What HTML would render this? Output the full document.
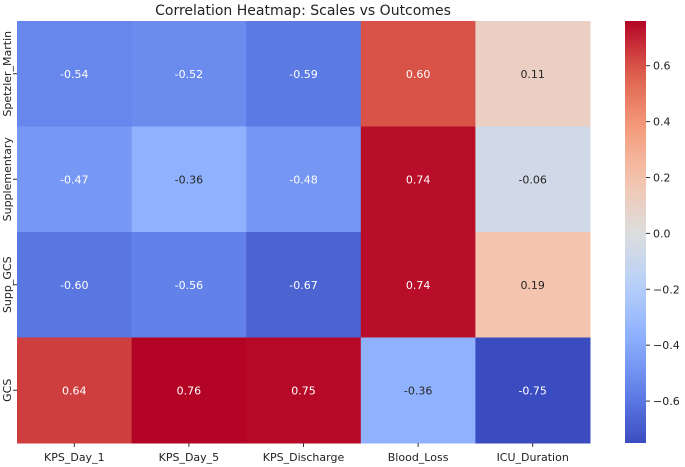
<!DOCTYPE html>
<html><head><meta charset="utf-8"><style>
html,body{margin:0;padding:0;background:#fff;}
svg{display:block;font-family:"DejaVu Sans","Liberation Sans",sans-serif;}
</style></head><body>
<svg id="chart" width="685" height="467">
<text x="303" y="15" text-anchor="middle" font-size="14" fill="#222">Correlation Heatmap: Scales vs Outcomes</text>
<g id="cells"></g><g id="xt"></g><g id="yt"></g><g id="cb"></g>
</svg>
<script>
const rows = ["Spetzler_Martin","Supplementary","Supp_GCS","GCS"];
const cols = ["KPS_Day_1","KPS_Day_5","KPS_Discharge","Blood_Loss","ICU_Duration"];
const r0 = [-0.54,-0.52,-0.59,0.60,0.11];
const r1 = [-0.47,-0.36,-0.48,0.74,-0.06];
const r2 = [-0.60,-0.56,-0.67,0.74,0.19];
const r3 = [0.64,0.76,0.75,-0.36,-0.75];
const values = [r0,r1,r2,r3];
const cbTicks = [0.6,0.4,0.2,0.0,-0.2,-0.4,-0.6];
const vmin=-0.75, vmax=0.76;
const L=17,T=21,R=590,B=443;
const cw=(R-L)/cols.length, rh=(B-T)/rows.length;
const stops=[[59,76,192],[98,130,234],[141,176,254],[184,208,249],[221,221,221],[245,196,173],[244,154,123],[222,96,77],[180,4,38]];
function cmap(v){let t=(v-vmin)/(vmax-vmin);t=Math.max(0,Math.min(1,t));const f=t*8,i=Math.min(7,Math.floor(f)),u=f-i;const a=stops[i],b=stops[i+1];return a.map((x,k)=>Math.round(x+(b[k]-x)*u));}
function lum(c){const l=c.map(x=>{x/=255;return x<=0.03928?x/12.92:Math.pow((x+0.055)/1.055,2.4)});return 0.2126*l[0]+0.7152*l[1]+0.0722*l[2];}
const NS="http://www.w3.org/2000/svg";
function mk(tag,attrs,parent){const e=document.createElementNS(NS,tag);for(const k in attrs)e.setAttribute(k,attrs[k]);parent.appendChild(e);return e;}
const cells=document.getElementById('cells');
values.forEach((row,i)=>row.forEach((v,j)=>{
  const c=cmap(v);
  const r=mk('rect',{x:L+j*cw,y:T+i*rh,width:cw+0.5,height:rh+0.5,fill:`rgb(${c})`},cells);
  
  
  const t=mk('text',{x:L+(j+0.5)*cw,y:T+(i+0.5)*rh+4,'text-anchor':'middle','font-size':11,fill:lum(c)>0.408?'#262626':'#fff'},cells);
  t.textContent=v.toFixed(2);
  
  
}));
const xt=document.getElementById('xt');
cols.forEach((c,j)=>{const x=L+(j+0.5)*cw;
  mk('line',{x1:x,x2:x,y1:B,y2:B+4,stroke:'#333'},xt);
  const t=mk('text',{x:x,y:B+18,'text-anchor':'middle','font-size':11,fill:'#222'},xt);t.textContent=c;
  
  });
const yt=document.getElementById('yt');
rows.forEach((r,i)=>{const y=T+(i+0.5)*rh;
  mk('line',{x1:L-4,x2:L,y1:y,y2:y,stroke:'#333'},yt);
  const t=mk('text',{x:0,y:0,'text-anchor':'middle','font-size':11,fill:'#222',transform:`translate(11,${y}) rotate(-90)`},yt);t.textContent=r;
  
  });
const cb=document.getElementById('cb');
const cx=625,cwid=21;
const defs=mk('defs',{},cb);const g=mk('linearGradient',{id:'cg',x1:0,y1:1,x2:0,y2:0},defs);
for(let k=0;k<=20;k++){const v=vmin+(vmax-vmin)*k/20;mk('stop',{offset:k/20,'stop-color':`rgb(${cmap(v)})`},g);}
const bar=mk('rect',{x:cx,y:T,width:cwid,height:B-T,fill:'url(#cg)'},cb);


function cy(v){return T+(vmax-v)/(vmax-vmin)*(B-T);}
cbTicks.forEach(v=>{const y=cy(v);
  mk('line',{x1:cx+cwid,x2:cx+cwid+4,y1:y,y2:y,stroke:'#333'},cb);
  const t=mk('text',{x:cx+cwid+7,y:y+4,'font-size':11,fill:'#222'},cb);t.textContent=v.toFixed(1).replace('-','\u2212');
  
  });
</script>
</body></html>
